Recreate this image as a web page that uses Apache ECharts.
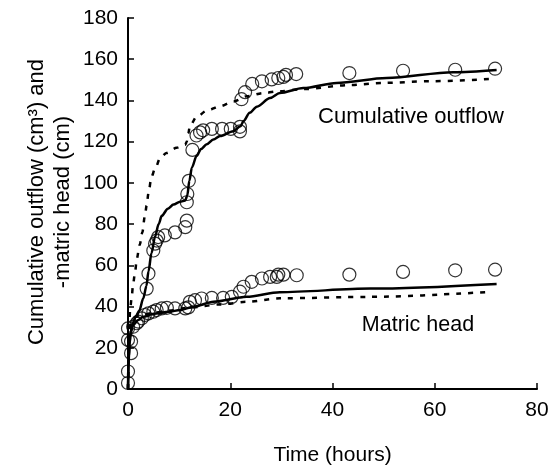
<!DOCTYPE html>
<html>
<head>
<meta charset="utf-8">
<script src="https://cdn.jsdelivr.net/npm/echarts@6/dist/echarts.min.js"></script>
<style>html,body{margin:0;padding:0;background:#fff}#c{width:556px;height:471px}</style>
</head>
<body>
<div id="c"></div>
<script>
// Observed cumulative outflow (hours, cm3)
var outflowObs = [[3.65,48.7],[4.0,56],[4.95,67.2],[5.3,70.5],[5.6,72],[5.9,73.7],[7.2,74.5],[9.2,76],[11.2,78.5],[11.5,81.7],[11.5,90.6],[11.6,94.6],[11.9,101],[12.6,116],[13.4,123],[14.1,124.5],[14.7,125.5],[16.4,126.2],[18.4,126.2],[20.1,126.2],[21.9,127.2],[21.9,125],[22.2,140.6],[22.9,144],[24.3,148],[26.2,149.3],[28.1,150.2],[29.4,150.9],[30.4,151.4],[30.9,152.4],[32.9,152.8],[43.3,153.3],[53.8,154.4],[64,154.9],[71.8,155.4]];
// Observed matric head (hours, -cm)
var matricObs = [[0,2.9],[0,8.5],[0.6,17.4],[0,23.8],[0.6,23],[0,29.4],[1.0,30.2],[1.7,31.9],[2.0,32.7],[2.7,34.3],[3.3,35.9],[4.0,36.7],[4.95,37.5],[5.6,38.3],[6.6,39.1],[7.6,39.4],[9.2,39.1],[11.2,39.1],[11.8,39.6],[12.1,42.3],[13.1,43.1],[14.4,43.9],[16.4,44.2],[18.6,44.2],[20.3,44.7],[21.9,47.2],[22.6,49.6],[24.2,52],[26.2,53.6],[27.8,54.4],[29.1,54.4],[29.4,55.5],[30.4,55.5],[33,55.2],[43.3,55.5],[53.8,56.8],[64,57.6],[71.8,57.9]];
// Simulated outflow (solid)
var outflowSimA = [[0,0],[0.15,15],[0.4,25],[0.8,31],[1.5,35],[2.2,38],[3.0,44],[3.6,50],[4.0,57],[4.6,66],[5.3,74],[6.0,80],[6.6,84],[7.8,87.5],[8.9,89.5],[10.2,90.8],[11.2,91.5],[11.6,94],[12.0,101],[12.5,107.5],[13.4,113],[14.3,116.5],[15.4,118.7],[16.7,121],[18,122.7],[20.6,125.1],[22,127.5],[22.6,130],[23.8,134],[25.2,137],[27.8,141.2],[29.7,143.6],[34.3,146],[40.8,148.5],[50.6,150.9],[63.6,153.7],[72.1,154.8]];
// Simulated outflow (dashed)
var outflowSimB = [[0,0],[0.15,20],[0.4,38],[0.7,44],[1.0,51],[1.4,57],[1.7,63],[2.3,70],[2.8,76],[3.3,84],[3.65,89],[4.0,95],[4.6,103],[5.3,107],[6.3,112],[7.5,114.5],[9.5,117],[11.2,118.5],[11.5,120],[11.8,124],[12.1,127.6],[13.4,132],[15.4,135],[18,137.2],[20.6,139.5],[23.2,142],[26.5,143.6],[29.7,144.5],[34.3,145.5],[43.4,147.5],[49.9,148.5],[59,149.3],[70.8,150.4]];
// Simulated matric head (solid)
var matricSimA = [[0,0],[0.1,12],[0.3,22],[0.6,28],[1,31],[2,33.5],[3,35],[5,36.5],[8,37.5],[10.2,38.3],[12.8,39.9],[16.7,42.3],[23.2,44.7],[29.7,47],[47.4,48.7],[72.1,51]];
// Simulated matric head (dashed)
var matricSimB = [[0,0],[0.1,15],[0.3,28],[0.7,33],[1.5,35],[3,36],[5,37],[8,38],[12,39.5],[18,41],[23.2,42.3],[29.7,44],[47.4,44.7],[70.8,47.1]];
var xTicks = [0,20,40,60,80];
var yTicks = [0,20,40,60,80,100,120,140,160,180];

var FONT = 'Liberation Sans, Arial, sans-serif';
var chart = echarts.init(document.getElementById('c'), null, {renderer:'canvas'});
function lineS(data, dashed){
  return {type:'line', data:data, showSymbol:false, smooth:0.3, smoothMonotone:'x',
    lineStyle:{color:'#000', width:2.5, type: dashed ? [5,7] : 'solid'}, z:3, animation:false};
}
function scat(data){
  return {type:'scatter', data:data, symbol:'circle', symbolSize:13,
    itemStyle:{color:'rgba(0,0,0,0)', borderColor:'#000', borderWidth:1.2}, z:4, animation:false};
}
chart.setOption({
  animation:false,
  backgroundColor:'#fff',
  grid:{left:128, right:19, top:18, bottom:80},
  xAxis:{type:'value', min:xTicks[0], max:xTicks[xTicks.length-1], interval:20,
    axisLine:{lineStyle:{color:'#000', width:2}},
    axisTick:{inside:true, length:6, lineStyle:{color:'#000', width:1.5}},
    axisLabel:{color:'#000', fontSize:21, fontFamily:FONT, margin:11},
    splitLine:{show:false},
    name:'Time (hours)', nameLocation:'middle', nameGap:56,
    nameTextStyle:{color:'#000', fontSize:21, fontFamily:FONT}},
  yAxis:{type:'value', min:yTicks[0], max:yTicks[yTicks.length-1], interval:20,
    axisLine:{lineStyle:{color:'#000', width:2}},
    axisTick:{inside:true, length:6, lineStyle:{color:'#000', width:1.5}},
    axisLabel:{color:'#000', fontSize:21, fontFamily:FONT, margin:10},
    splitLine:{show:false}},
  graphic:[
    {type:'text', x:50, y:202, rotation:Math.PI/2,
      style:{text:'Cumulative outflow (cm³) and\n-matric head (cm)', fill:'#000', font:'22px '+FONT,
        textAlign:'center', textVerticalAlign:'middle', lineHeight:26}},
    {type:'text', x:411, y:117, style:{text:'Cumulative outflow', fill:'#000', font:'22px '+FONT, textAlign:'center', textVerticalAlign:'middle'}},
    {type:'text', x:418, y:325, style:{text:'Matric head', fill:'#000', font:'21.5px '+FONT, textAlign:'center', textVerticalAlign:'middle'}}
  ],
  series:[
    lineS(outflowSimA,false), lineS(outflowSimB,true),
    lineS(matricSimA,false), lineS(matricSimB,true),
    scat(outflowObs), scat(matricObs)
  ]
});
</script>
</body>
</html>
